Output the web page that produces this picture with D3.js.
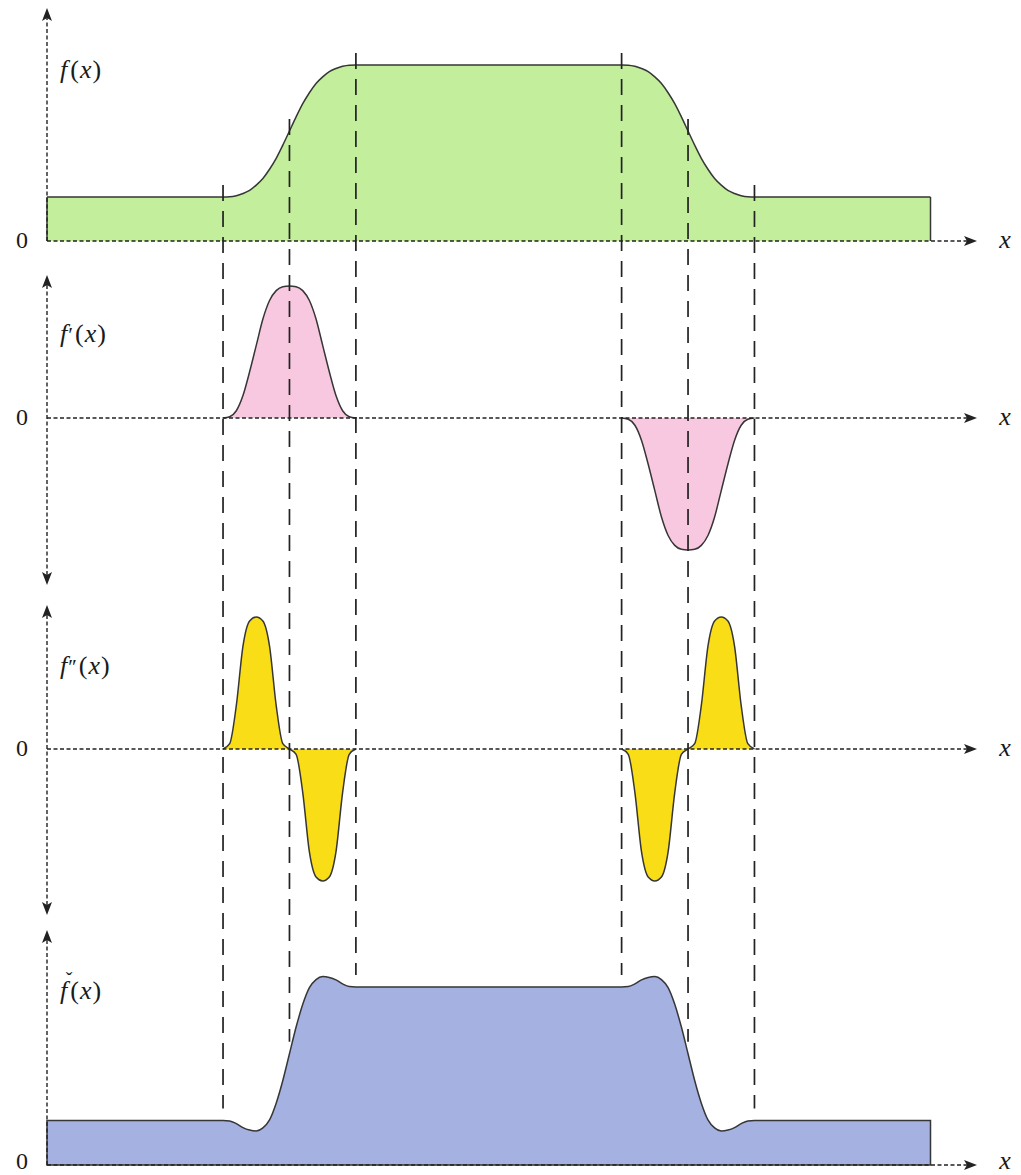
<!DOCTYPE html>
<html>
<head>
<meta charset="utf-8">
<script src="https://cdn.jsdelivr.net/npm/d3@7"></script>
<style>
  body { margin: 0; background: #fff; }
</style>
</head>
<body>
<svg id="chart" width="1021" height="1175"></svg>
<script>
// ---- data ---------------------------------------------------------------
// sample positions along x (rising edge on [0,2], falling edge on [6,8])
const xs = [-2.65,
  0, 0.1, 0.2, 0.3, 0.4, 0.5, 0.6, 0.7, 0.8, 0.9, 1, 1.1, 1.2, 1.3, 1.4, 1.5, 1.6, 1.7, 1.8, 1.9, 2,
  6, 6.1, 6.2, 6.3, 6.4, 6.5, 6.6, 6.7, 6.8, 6.9, 7, 7.1, 7.2, 7.3, 7.4, 7.5, 7.6, 7.7, 7.8, 7.9, 8,
  10.65];

// f(x): smooth plateau
const fVals = [1.0,
  1.0, 1.005, 1.03, 1.08, 1.15, 1.27, 1.42, 1.63, 1.88, 2.18, 2.5, 2.82, 3.12, 3.37, 3.58, 3.73, 3.85, 3.92, 3.97, 3.995, 4.0,
  4.0, 3.995, 3.97, 3.92, 3.85, 3.73, 3.58, 3.37, 3.12, 2.82, 2.5, 2.18, 1.88, 1.63, 1.42, 1.27, 1.15, 1.08, 1.03, 1.005, 1.0,
  1.0];

// f'(x): one bump per edge
const dfVals = [0,
  0, 0.01, 0.055, 0.17, 0.35, 0.55, 0.75, 0.89, 0.965, 0.995, 1, 0.995, 0.965, 0.89, 0.75, 0.55, 0.35, 0.17, 0.055, 0.01, 0,
  0, -0.01, -0.055, -0.17, -0.35, -0.55, -0.75, -0.89, -0.965, -0.995, -1, -0.995, -0.965, -0.89, -0.75, -0.55, -0.35, -0.17, -0.055, -0.01, 0,
  0];

// f''(x): two lobes per edge
const d2fVals = [0,
  0, 0.04, 0.33, 0.78, 0.97, 1, 0.97, 0.78, 0.33, 0.04, 0, -0.04, -0.33, -0.78, -0.97, -1, -0.97, -0.78, -0.33, -0.04, 0,
  0, -0.04, -0.33, -0.78, -0.97, -1, -0.97, -0.78, -0.33, -0.04, 0, 0.04, 0.33, 0.78, 0.97, 1, 0.97, 0.78, 0.33, 0.04, 0,
  0];

// sharpened f(x) with under- and overshoot
const sharpVals = [1.0,
  1.0, 0.99, 0.93, 0.84, 0.785, 0.765, 0.835, 1.015, 1.39, 1.9, 2.5, 3.1, 3.61, 3.985, 4.165, 4.235, 4.215, 4.16, 4.07, 4.01, 4.0,
  4.0, 4.01, 4.07, 4.16, 4.215, 4.235, 4.165, 3.985, 3.61, 3.1, 2.5, 1.9, 1.39, 1.015, 0.835, 0.765, 0.785, 0.84, 0.93, 0.99, 1.0,
  1.0];

// edge markers (start / middle / end of each transition)
const edges = [0, 1, 2, 6, 7, 8];
const edgeSegments = [[0, 2], [6, 8]];
const xDomain = [-2.65, 11.35];

// ---- drawing ------------------------------------------------------------
const svg = d3.select("#chart");
const ink = "#222";
const outline = "#363636";
const serif = "'Liberation Serif', 'DejaVu Serif', 'Times New Roman', serif";

const x = d3.scaleLinear().domain(xDomain).range([47, 977]);

const panels = [
  { vals: fVals, y: d3.scaleLinear().domain([0, 4]).range([241, 65]),
    fill: "#c3ee9b", axisTop: 8, axisBottom: 241, downArrow: false, type: "level",
    label: [["f", true], ["(", false], ["x", true], [")", false]], labelY: 78, tickDy: 7 },
  { vals: dfVals, y: d3.scaleLinear().domain([-1, 1]).range([550, 286]),
    fill: "#f8c8e0", axisTop: 275, axisBottom: 585, downArrow: true, type: "bump",
    label: [["f", true], ["\u2032", false], ["(", false], ["x", true], [")", false]], labelY: 342, tickDy: 7 },
  { vals: d2fVals, y: d3.scaleLinear().domain([-1, 1]).range([881, 617]),
    fill: "#f9dd17", axisTop: 605, axisBottom: 915, downArrow: true, type: "bump",
    label: [["f", true], ["\u2032\u2032", false], ["(", false], ["x", true], [")", false]], labelY: 674, tickDy: 7 },
  { vals: sharpVals, y: d3.scaleLinear().domain([0, 4]).range([1165, 987]),
    fill: "#a4b1e1", axisTop: 930, axisBottom: 1165, downArrow: false, type: "closed",
    label: [["f", true], ["(", false], ["x", true], [")", false]], labelY: 999, caron: true, tickDy: 4 }
];

const layerFill = svg.append("g");
const layerGuides = svg.append("g");
const layerAxes = svg.append("g");
const layerText = svg.append("g").attr("font-family", serif).attr("fill", "#1a1a1a");

function arrow(g, tx, ty, dir) {
  // stealth-style head; dir: "up" | "down" | "right"
  const L = 13, W = 5, N = 10;
  let p;
  if (dir === "right") p = [[tx, ty], [tx - L, ty - W], [tx - N, ty], [tx - L, ty + W]];
  else if (dir === "up") p = [[tx, ty], [tx - W, ty + L], [tx, ty + N], [tx + W, ty + L]];
  else p = [[tx, ty], [tx - W, ty - L], [tx, ty - N], [tx + W, ty - L]];
  g.append("path").attr("d", "M" + p.map(d => d.join(",")).join("L") + "Z").attr("fill", ink);
}

panels.forEach(p => {
  const data = xs.map((xv, i) => ({ x: xv, v: p.vals[i] }));
  const area = d3.area().x(d => x(d.x)).y0(p.y(0)).y1(d => p.y(d.v)).curve(d3.curveMonotoneX);
  const line = d3.line().x(d => x(d.x)).y(d => p.y(d.v)).curve(d3.curveMonotoneX);

  if (p.type === "bump") {
    edgeSegments.forEach(([a, b]) => {
      const seg = data.filter(d => d.x >= a && d.x <= b);
      layerFill.append("path").attr("d", area(seg)).attr("fill", p.fill);
      layerFill.append("path").attr("d", line(seg)).attr("fill", "none")
        .attr("stroke", outline).attr("stroke-width", 1.5);
    });
  } else {
    layerFill.append("path").attr("d", area(data)).attr("fill", p.fill)
      .attr("stroke", p.type === "closed" ? outline : "none").attr("stroke-width", 1.5);
    if (p.type === "level") {
      layerFill.append("path").attr("d", line(data)).attr("fill", "none")
        .attr("stroke", outline).attr("stroke-width", 1.5);
      const first = data[0], last = data[data.length - 1];
      [first, last].forEach(d => {
        layerFill.append("line")
          .attr("x1", x(d.x)).attr("x2", x(d.x))
          .attr("y1", p.y(0)).attr("y2", p.y(d.v))
          .attr("stroke", outline).attr("stroke-width", 1.5);
      });
    }
  }

  // axes
  const y0 = p.y(0);
  layerAxes.append("line").attr("x1", x(xDomain[0])).attr("x2", x(xDomain[1]) - 10)
    .attr("y1", y0).attr("y2", y0)
    .attr("stroke", ink).attr("stroke-width", 1.4).attr("stroke-dasharray", "4,2.5");
  arrow(layerAxes, x(xDomain[1]), y0, "right");
  layerAxes.append("line").attr("x1", x(xDomain[0])).attr("x2", x(xDomain[0]))
    .attr("y1", p.downArrow ? p.axisBottom - 10 : p.axisBottom).attr("y2", p.axisTop + 10)
    .attr("stroke", ink).attr("stroke-width", 1.4).attr("stroke-dasharray", "4,2.5");
  arrow(layerAxes, x(xDomain[0]), p.axisTop, "up");
  if (p.downArrow) arrow(layerAxes, x(xDomain[0]), p.axisBottom, "down");

  // tick "0" and axis name
  layerText.append("text").attr("x", 22).attr("y", y0 + p.tickDy)
    .attr("text-anchor", "middle").attr("font-size", 24).text("0");
  layerText.append("text").attr("x", 1005).attr("y", y0 + p.tickDy)
    .attr("text-anchor", "middle").attr("font-size", 26).attr("font-style", "italic").text("x");

  // panel label
  const t = layerText.append("text").attr("x", 60).attr("y", p.labelY).attr("font-size", 26);
  p.label.forEach(([s, it]) => {
    const ts = t.append("tspan").text(s).attr("font-style", it ? "italic" : "normal");
    if (s === "(") ts.attr("dx", 3);
    if (s.startsWith("\u2032")) ts.attr("dx", 1).attr("font-size", 22).attr("letter-spacing", -1);
    if (s === ")" || s === "x") ts.attr("dx", 1);
  });
  if (p.caron) {
    layerText.append("text").attr("x", 69).attr("y", p.labelY - 12)
      .attr("text-anchor", "middle").attr("font-size", 20).text("\u02C7");
  }
});

// vertical guides through every edge, from above f down to above sharpened f
const pTop = panels[0], pBot = panels[3];
edges.forEach(e => {
  const i = xs.indexOf(e);
  layerGuides.append("line")
    .attr("x1", x(e)).attr("x2", x(e))
    .attr("y1", pTop.y(pTop.vals[i]) - 12)
    .attr("y2", pBot.y(pBot.vals[i]) - 12)
    .attr("stroke", ink).attr("stroke-width", 1.7).attr("stroke-dasharray", "16,10");
});
</script>
</body>
</html>
